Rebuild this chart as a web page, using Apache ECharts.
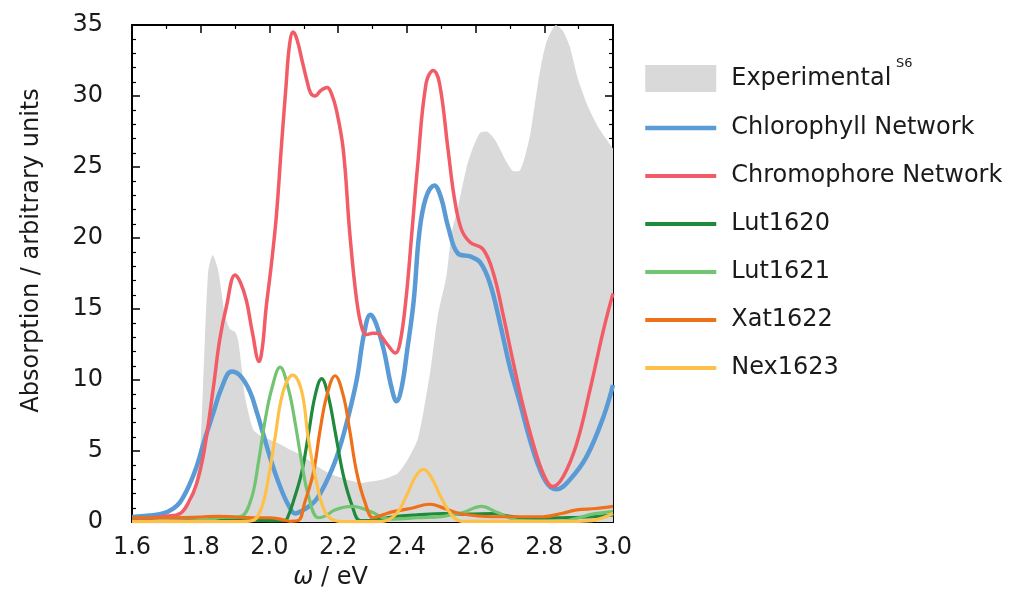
<!DOCTYPE html>
<html>
<head>
<meta charset="utf-8">
<script src="https://cdn.jsdelivr.net/npm/echarts@6/dist/echarts.min.js"></script>
<style>
html,body{margin:0;padding:0;background:#fff;}
#chart{width:1019px;height:603px;}
</style>
</head>
<body>
<div id="chart"></div>
<script>
// ---- data (x in eV, y in arbitrary units) ----
const xTicks = [1.6, 1.8, 2.0, 2.2, 2.4, 2.6, 2.8, 3.0];
const yTicks = [0, 5, 10, 15, 20, 25, 30, 35];
const seriesNames = ['Experimental', 'Chlorophyll Network', 'Chromophore Network', 'Lut1620', 'Lut1621', 'Xat1622', 'Nex1623'];

const experimental = [[1.6,0.1],[1.65,0.15],[1.7,0.25],[1.73,0.45],[1.75,0.8],[1.774,1.5],[1.788,3.4],[1.80,5.8],[1.812,12.8],[1.822,17.7],[1.835,18.8],[1.851,17.7],[1.871,14.5],[1.885,13.6],[1.9,13.4],[1.909,12.8],[1.919,10.9],[1.929,8.8],[1.953,6.5],[1.98,6.0],[2.03,5.5],[2.06,5.1],[2.10,4.6],[2.14,3.9],[2.176,3.4],[2.225,3.0],[2.27,2.75],[2.294,2.85],[2.33,3.0],[2.372,3.4],[2.40,4.3],[2.431,5.8],[2.45,8.0],[2.47,10.9],[2.49,14.5],[2.515,17.3],[2.53,20.3],[2.549,22.2],[2.574,25.0],[2.593,26.4],[2.613,27.4],[2.632,27.5],[2.657,26.9],[2.687,25.5],[2.711,24.7],[2.726,24.7],[2.741,25.5],[2.76,27.4],[2.785,31.4],[2.805,33.7],[2.834,35],[2.854,34.6],[2.874,33.5],[2.898,31.2],[2.928,29.2],[2.957,27.8],[3.0,26.3]];

const chlorophyll = [[1.6,0.35],[1.65,0.45],[1.69,0.6],[1.72,0.95],[1.74,1.4],[1.765,2.5],[1.788,3.9],[1.81,5.7],[1.837,7.7],[1.86,9.4],[1.89,10.6],[1.915,10.3],[1.943,9.2],[1.965,7.6],[1.982,6.2],[2.005,4.3],[2.031,2.5],[2.055,1.2],[2.075,0.6],[2.095,0.8],[2.115,1.1],[2.137,1.6],[2.165,2.8],[2.196,4.6],[2.225,7.0],[2.254,10.0],[2.275,13.2],[2.294,14.6],[2.31,14.0],[2.333,12.1],[2.355,9.5],[2.37,8.5],[2.385,9.5],[2.401,12.1],[2.42,15.6],[2.436,20.3],[2.455,22.8],[2.48,23.7],[2.50,22.8],[2.52,20.8],[2.549,18.9],[2.584,18.7],[2.613,18.3],[2.642,16.8],[2.671,14.0],[2.70,10.9],[2.729,8.4],[2.758,5.8],[2.787,3.7],[2.812,2.6],[2.836,2.3],[2.875,3.0],[2.923,4.6],[2.972,7.4],[3.0,9.65]];

const chromophore = [[1.6,0.2],[1.65,0.25],[1.7,0.4],[1.74,0.6],[1.765,1.4],[1.788,2.7],[1.81,5.0],[1.837,9.5],[1.855,12.8],[1.875,15.2],[1.9,17.4],[1.915,16.9],[1.933,15.6],[1.95,13.4],[1.97,11.3],[1.98,12.4],[1.99,15.0],[2.005,18.0],[2.02,21.5],[2.035,26.5],[2.048,30.6],[2.058,33.5],[2.069,34.5],[2.08,34.0],[2.095,32.5],[2.11,31.0],[2.12,30.2],[2.133,30.0],[2.15,30.4],[2.168,30.6],[2.18,30.2],[2.195,29.0],[2.215,26.2],[2.234,20.3],[2.254,15.6],[2.27,13.6],[2.284,13.2],[2.30,13.3],[2.313,13.3],[2.34,12.6],[2.367,11.9],[2.38,12.6],[2.397,15.6],[2.415,20.5],[2.431,25.0],[2.456,30.9],[2.477,31.8],[2.495,30.9],[2.52,26.2],[2.539,22.7],[2.559,20.6],[2.584,19.7],[2.622,19.2],[2.652,17.5],[2.681,14.5],[2.71,11.2],[2.739,8.1],[2.768,5.5],[2.797,3.4],[2.824,2.5],[2.855,3.2],[2.894,5.5],[2.933,9.3],[2.972,13.5],[3.0,16.1]];

const lut1620 = [[1.6,0.05],[1.7,0.05],[1.8,0.1],[1.9,0.15],[2.0,0.1],[2.045,0.1],[2.056,0.5],[2.069,1.4],[2.094,3.5],[2.113,6.1],[2.133,8.9],[2.152,10.1],[2.171,8.9],[2.191,6.4],[2.215,3.3],[2.24,1.2],[2.264,0.1],[2.29,0.1],[2.33,0.25],[2.36,0.37],[2.43,0.5],[2.506,0.6],[2.58,0.55],[2.65,0.6],[2.70,0.4],[2.749,0.26],[2.85,0.3],[2.94,0.37],[3.0,0.5]];

const lut1621 = [[1.6,0.05],[1.75,0.05],[1.82,0.15],[1.87,0.35],[1.90,0.35],[1.919,0.4],[1.948,1.7],[1.968,4.2],[1.987,7.1],[2.007,9.4],[2.031,10.9],[2.055,9.4],[2.074,7.1],[2.094,4.2],[2.113,1.9],[2.142,0.3],[2.165,0.45],[2.19,0.85],[2.24,1.1],[2.298,0.7],[2.33,0.3],[2.36,0.2],[2.43,0.3],[2.506,0.4],[2.56,0.65],[2.618,1.1],[2.66,0.7],[2.73,0.1],[2.85,0.05],[2.9,0.3],[2.94,0.55],[3.0,0.75]];

const xat1622 = [[1.6,0.3],[1.7,0.3],[1.8,0.35],[1.85,0.4],[1.9,0.35],[1.95,0.3],[2.0,0.3],[2.04,0.15],[2.06,0.05],[2.084,0.1],[2.103,1.4],[2.128,3.5],[2.147,6.4],[2.167,8.9],[2.191,10.3],[2.215,8.9],[2.234,6.4],[2.254,3.5],[2.278,1.4],[2.302,0.3],[2.33,0.5],[2.36,0.73],[2.41,0.95],[2.467,1.25],[2.51,0.95],[2.555,0.6],[2.65,0.37],[2.796,0.37],[2.85,0.6],[2.894,0.85],[2.95,0.95],[3.0,1.1]];

const nex1623 = [[1.6,0.02],[1.9,0.02],[1.95,0.1],[1.977,1.0],[1.997,3.1],[2.016,5.9],[2.04,9.2],[2.068,10.35],[2.094,9.2],[2.113,5.9],[2.137,2.8],[2.162,0.7],[2.19,0.1],[2.22,0.02],[2.33,0.05],[2.37,0.6],[2.40,1.9],[2.425,3.2],[2.448,3.7],[2.47,3.2],[2.50,1.7],[2.53,0.5],[2.56,0.05],[2.9,0.05],[2.95,0.15],[3.0,0.6]];

// ---- styling ----
const FONT = 'DejaVu Sans';
const TXT = '#1a1a1a';
const colors = {
  exp: '#d9d9d9', chl: '#5b9bd5', chr: '#f25c66',
  l20: '#1e8b3c', l21: '#72c472', x22: '#ee7119', n23: '#ffc04a'
};

const tickCommon = {
  axisLine: { show: true, onZero: false, lineStyle: { color: '#000', width: 2 } },
  axisTick: { show: true, inside: true, length: 8, lineStyle: { color: '#000', width: 1.5 } },
  splitLine: { show: false },
  minorSplitLine: { show: false }
};

function lineSeries(name, data, color, width, z) {
  return {
    name: name, type: 'line', data: data, smooth: 0.4,
    symbol: 'none', showSymbol: false, clip: true, z: z,
    lineStyle: { color: color, width: width },
    itemStyle: { color: color },
    emphasis: { disabled: true }
  };
}

function legendLine(name, color, width) {
  return {
    name: name,
    lineStyle: { width: width, color: color },
    itemStyle: { color: 'rgba(0,0,0,0)', borderColor: 'rgba(0,0,0,0)', borderWidth: 0 }
  };
}

const chart = echarts.init(document.getElementById('chart'), null, { renderer: 'canvas' });
chart.setOption({
  animation: false,
  backgroundColor: '#fff',
  textStyle: { fontFamily: FONT, color: TXT },
  grid: { left: 132, right: 406, top: 25, bottom: 81, containLabel: false },
  xAxis: [
    Object.assign({
      type: 'value', min: xTicks[0], max: xTicks[xTicks.length - 1], interval: 0.2, position: 'bottom',
      minorTick: { show: true, splitNumber: 2, length: 4, lineStyle: { color: '#000', width: 1.2 } },
      axisLabel: { show: true, fontSize: 24, fontFamily: FONT, color: TXT, margin: 14,
        formatter: v => v.toFixed(1) },
      name: '{i|ω} / eV', nameLocation: 'middle', nameGap: 44,
      nameTextStyle: { fontSize: 24, fontFamily: FONT, color: TXT, padding: [0, 84, 0, 0],
        rich: { i: { fontStyle: 'italic', fontSize: 24, fontFamily: FONT, color: TXT } } }
    }, tickCommon),
    Object.assign({
      type: 'value', min: xTicks[0], max: xTicks[xTicks.length - 1], interval: 0.2, position: 'top',
      minorTick: { show: true, splitNumber: 2, length: 4, lineStyle: { color: '#000', width: 1.2 } },
      axisLabel: { show: false }
    }, tickCommon)
  ],
  yAxis: [
    Object.assign({
      type: 'value', min: yTicks[0], max: yTicks[yTicks.length - 1], interval: 5, position: 'left',
      minorTick: { show: true, splitNumber: 5, length: 4, lineStyle: { color: '#000', width: 1.2 } },
      axisLabel: { show: true, fontSize: 24, fontFamily: FONT, color: TXT, margin: 29 },
      name: 'Absorption / arbitrary units', nameLocation: 'middle', nameGap: 88,
      nameTextStyle: { fontSize: 24, fontFamily: FONT, color: TXT, padding: [0, 0, 0, 46] }
    }, tickCommon),
    Object.assign({
      type: 'value', min: yTicks[0], max: yTicks[yTicks.length - 1], interval: 5, position: 'right',
      minorTick: { show: true, splitNumber: 5, length: 4, lineStyle: { color: '#000', width: 1.2 } },
      axisLabel: { show: false }
    }, tickCommon)
  ],
  legend: {
    orient: 'vertical', left: 643, top: 65, padding: 0,
    itemWidth: 71, itemHeight: 27, itemGap: 24,
    selectedMode: false,
    textStyle: { fontSize: 24, fontFamily: FONT, color: TXT, padding: [0, 0, 0, 10] },
    data: [
      { name: seriesNames[0], icon: 'rect', itemStyle: { color: colors.exp } },
      legendLine(seriesNames[1], colors.chl, 4.5), legendLine(seriesNames[2], colors.chr, 4),
      legendLine(seriesNames[3], colors.l20, 4), legendLine(seriesNames[4], colors.l21, 4),
      legendLine(seriesNames[5], colors.x22, 4), legendLine(seriesNames[6], colors.n23, 4)
    ]
  },
  graphic: [
    { type: 'text', left: 896, top: 57, style: { text: 'S6', fontSize: 13, fontFamily: FONT, fill: TXT } }
  ],
  series: [
    {
      name: seriesNames[0], type: 'line', data: experimental, smooth: 0.2,
      symbol: 'none', showSymbol: false, z: 1,
      lineStyle: { width: 0, color: colors.exp },
      itemStyle: { color: colors.exp },
      areaStyle: { color: colors.exp, opacity: 1 },
      emphasis: { disabled: true }
    },
    lineSeries(seriesNames[1], chlorophyll, colors.chl, 4.5, 2),
    lineSeries(seriesNames[2], chromophore, colors.chr, 3.5, 3),
    lineSeries(seriesNames[3], lut1620, colors.l20, 3.2, 4),
    lineSeries(seriesNames[4], lut1621, colors.l21, 3.2, 5),
    lineSeries(seriesNames[5], xat1622, colors.x22, 3.2, 6),
    lineSeries(seriesNames[6], nex1623, colors.n23, 3.2, 7)
  ]
});
</script>
</body>
</html>
